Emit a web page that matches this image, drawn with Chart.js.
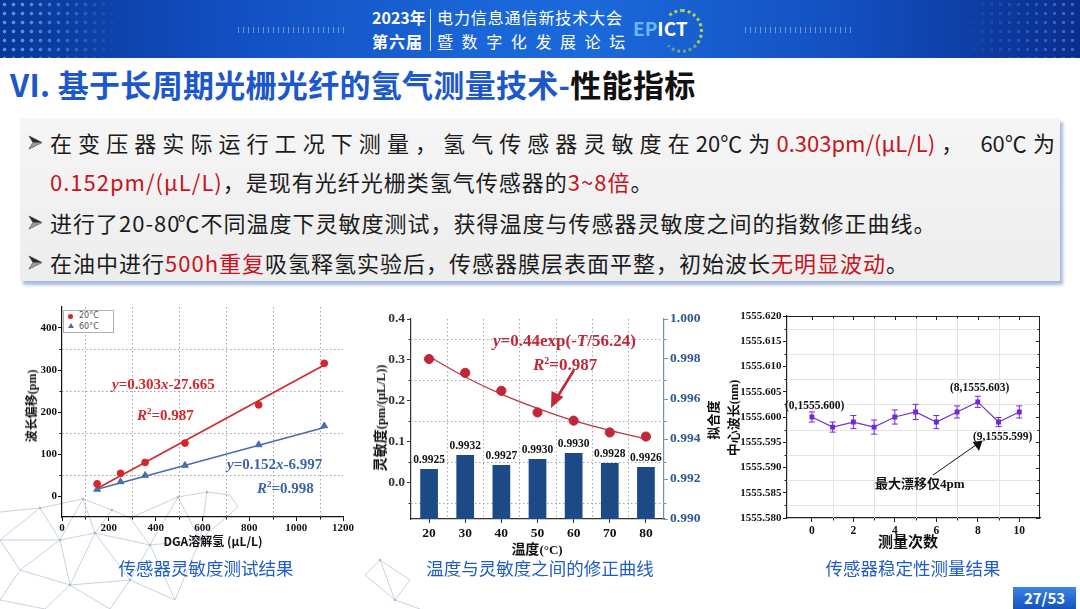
<!DOCTYPE html>
<html><head><meta charset="utf-8">
<script src="https://cdn.jsdelivr.net/npm/chart.js@4.4.0/dist/chart.umd.min.js"></script>
<style>
body{margin:0;background:#fff;}
#page{position:relative;width:1080px;height:609px;overflow:hidden;background:#fff;font-family:'Noto Sans CJK SC','Noto Sans',sans-serif;}
.abs{position:absolute;}
.hw{color:#fff;white-space:nowrap;line-height:20px;}
.ln{position:absolute;left:50px;font-size:22px;line-height:30px;color:#1b1b1b;white-space:nowrap;letter-spacing:1px;}
.dc{margin-left:-6px;}
.dc2{margin-left:-3px;}
.r{color:#c8141c;}
.cap{position:absolute;top:556px;font-size:17.5px;line-height:24px;color:#1f5cc6;white-space:nowrap;transform:translateX(-50%);}
.ser{font-family:'Liberation Serif','DejaVu Serif',serif;font-weight:bold;}
.ann{position:absolute;white-space:nowrap;font-family:'Liberation Serif','DejaVu Serif',serif;font-weight:bold;line-height:18px;transform:translateY(-50%);}
.rot{position:absolute;white-space:nowrap;text-align:center;font-weight:bold;color:#111;transform:translate(-50%,-50%) rotate(-90deg);}
.ht{position:absolute;white-space:nowrap;font-weight:bold;color:#111;transform:translate(-50%,-50%);}
canvas{display:block;}
</style></head>
<body><div id="page">

<!-- header band -->
<div class="abs" style="left:0;top:0;width:1080px;height:58px;background:linear-gradient(90deg,#0a3796 0%,#1250c2 22%,#1a66d8 45%,#1b69da 55%,#1350c0 78%,#0a2e8e 100%);"></div>
<div class="abs" style="left:0;top:0;width:120px;height:58px;background-image:radial-gradient(circle,rgba(110,170,255,0.75) 1.7px,transparent 2.2px);background-size:9px 9px;-webkit-mask-image:linear-gradient(90deg,#000 20%,transparent);"></div>
<div class="abs" style="left:960px;top:0;width:120px;height:58px;background-image:radial-gradient(circle,rgba(110,170,255,0.45) 1.5px,transparent 2px);background-size:9px 9px;-webkit-mask-image:linear-gradient(270deg,#000 10%,transparent);"></div>
<div class="abs" style="left:238px;top:27px;width:108px;height:6px;background:repeating-linear-gradient(90deg,rgba(190,215,255,0.5) 0 1px,transparent 1px 5px);"></div>
<div class="abs" style="left:745px;top:27px;width:108px;height:6px;background:repeating-linear-gradient(90deg,rgba(190,215,255,0.5) 0 1px,transparent 1px 5px);"></div>
<div class="abs hw" style="left:372px;top:7px;font-size:16px;font-weight:bold;">2023年</div>
<div class="abs hw" style="left:372px;top:31px;font-size:16px;font-weight:bold;letter-spacing:1px;">第六届</div>
<div class="abs" style="left:430px;top:9px;width:1px;height:42px;background:rgba(255,255,255,0.8);"></div>
<div class="abs hw" style="left:437px;top:7px;font-size:16px;letter-spacing:0.9px;">电力信息通信新技术大会</div>
<div class="abs hw" style="left:437px;top:31px;font-size:16px;letter-spacing:8.6px;">暨数字化发展论坛</div>
<div class="abs" style="left:661px;top:9px;width:36px;height:38px;border-radius:50%;border:3px dotted #a6d64f;border-left-color:transparent;border-bottom-color:rgba(166,214,79,0.6);"></div>
<div class="abs hw" style="left:633px;top:17px;font-size:19px;font-weight:bold;line-height:22px;"><span style="color:#6fb4ff">EP</span>ICT</div>

<!-- title -->
<div class="abs" style="left:10px;top:63px;font-size:31px;line-height:42px;font-weight:bold;color:#1c58ca;white-space:nowrap;letter-spacing:0.3px;">VI. 基于长周期光栅光纤的氢气测量技术-<span style="color:#111">性能指标</span></div>

<!-- text box -->
<div class="abs" style="left:20px;top:118px;width:1040px;height:163px;background:linear-gradient(180deg,#f5f5f5,#ededed);box-shadow:3px 4px 3px rgba(110,140,195,0.6);"></div>
<svg class="abs" style="left:0;top:0;" width="60" height="290">
<g fill="#2a2a2a" stroke="#2a2a2a" stroke-width="0.6" stroke-linejoin="round">
<polygon points="29,136 42,142.5 29,149 33,142.5"/>
<polygon points="29,216 42,222.5 29,229 33,222.5"/>
<polygon points="29,256 42,262.5 29,269 33,262.5"/>
</g>
<g fill="#9a9a9a">
<polygon points="29,149 33,142.5 42,142.5"/>
<polygon points="29,229 33,222.5 42,222.5"/>
<polygon points="29,269 33,262.5 42,262.5"/>
</g>
</svg>
<div class="ln" style="top:127px;width:1005px;text-align:justify;text-align-last:justify;letter-spacing:0;">在变压器实际运行工况下测量，氢气传感器灵敏度在20<span class="dc">℃</span>为<span class="r">0.303pm/(μL/L)</span>， 60<span class="dc">℃</span>为</div>
<div class="ln" style="top:166px;"><span class="r">0.152pm/(μL/L)</span>，是现有光纤光栅类氢气传感器的<span class="r">3~8倍</span>。</div>
<div class="ln" style="top:207px;">进行了20-80<span class="dc2">℃</span>不同温度下灵敏度测试，获得温度与传感器灵敏度之间的指数修正曲线。</div>
<div class="ln" style="top:247px;">在油中进行<span class="r">500h重复</span>吸氢释氢实验后，传感器膜层表面平整，初始波长<span class="r">无明显波动</span>。</div>

<!-- background mesh -->
<svg class="abs" style="left:0;top:0;" width="1080" height="609">
<g stroke="#a9b8cc" stroke-width="0.8" fill="none" opacity="0.8">
<path d="M0,512L40,508L83,499L112,510L130,518L178,497L207,492L230,495L238,507 M83,499L60,540 M83,499L95,533 M112,510L95,533 M130,518L150,545 M178,497L150,545 M95,533L150,545 M60,540L95,533 M40,508L60,540 M0,540L20,570 M60,540L20,570 M60,540L70,585 M95,533L70,585 M95,533L130,580 M150,545L130,580 M20,570L70,585 M70,585L130,580 M20,570L0,600 M70,585L45,609 M70,585L110,609 M130,580L110,609 M178,497L200,540 M207,492L200,540 M150,545L200,540 M238,507L200,540 M130,580L175,600 M200,540L175,600 M150,545L175,600 M0,600L45,609 M0,540L40,508 M0,540L60,540 M380,560L410,580 M380,560L395,600 M410,580L395,600 M395,600L420,609 M365,575L395,600 M365,575L380,560"/>
</g>
<g fill="#9fb0c6" opacity="0.8">
<circle cx="40" cy="508" r="1.3"/><circle cx="83" cy="499" r="1.3"/><circle cx="112" cy="510" r="1.3"/><circle cx="178" cy="497" r="1.3"/><circle cx="207" cy="492" r="1.3"/><circle cx="60" cy="540" r="1.3"/><circle cx="95" cy="533" r="1.3"/><circle cx="150" cy="545" r="1.3"/><circle cx="70" cy="585" r="1.3"/><circle cx="130" cy="580" r="1.3"/><circle cx="200" cy="540" r="1.3"/><circle cx="380" cy="560" r="1.3"/><circle cx="395" cy="600" r="1.3"/>
</g>
</svg>

<!-- charts -->
<div class="abs" style="left:0;top:300px;width:360px;height:250px;"><canvas id="c1" width="360" height="250"></canvas></div>
<div class="abs" style="left:360px;top:300px;width:350px;height:260px;"><canvas id="c2" width="350" height="260"></canvas></div>
<div class="abs" style="left:700px;top:295px;width:380px;height:265px;"><canvas id="c3" width="380" height="265"></canvas></div>

<!-- chart 1 texts -->
<div class="abs" style="left:63px;top:310px;width:49px;height:21px;border:1px solid #b0b0b0;background:#fff;"></div>
<div class="abs" style="left:68px;top:313.5px;width:5px;height:5px;border-radius:50%;background:#d4262c;"></div>
<div class="abs" style="left:67.5px;top:323px;width:0;height:0;border-left:3px solid transparent;border-right:3px solid transparent;border-bottom:5px solid #4a6cae;"></div>
<div class="abs" style="left:79px;top:310px;font-family:'DejaVu Sans',sans-serif;font-size:8px;line-height:11px;color:#555;">20°C<br>60°C</div>
<div class="rot" style="left:31px;top:406px;font-size:12px;">波长偏移<span class="ser">(pm)</span></div>
<div class="ht" style="left:213px;top:540px;font-size:12px;">DGA溶解氢 (μL/L)</div>
<div class="ann" style="left:112px;top:384px;font-size:15px;color:#d4262c;"><i>y</i>=0.303<i>x</i>-27.665</div>
<div class="ann" style="left:137px;top:413px;font-size:15px;color:#d4262c;"><i>R</i><sup style="font-size:9px">2</sup>=0.987</div>
<div class="ann" style="left:227px;top:464px;font-size:15px;color:#3e66a6;"><i>y</i>=0.152<i>x</i>-6.997</div>
<div class="ann" style="left:257px;top:486px;font-size:15px;color:#3e66a6;"><i>R</i><sup style="font-size:9px">2</sup>=0.998</div>

<!-- chart 2 texts -->
<div class="rot" style="left:379px;top:418px;font-size:14px;">灵敏度<span class="ser" style="font-size:12.5px;">(pm/(μL/L))</span></div>
<div class="ht" style="left:537px;top:548px;font-size:14px;">温度<span class="ser" style="font-size:13px;">(°C)</span></div>
<div class="rot" style="left:712px;top:420px;font-size:13px;">拟合度</div>
<div class="ann" style="left:493px;top:341px;font-size:17px;color:#c0283a;"><i>y</i>=0.44exp(-<i>T</i>/56.24)</div>
<div class="ann" style="left:533px;top:363px;font-size:17px;color:#c0283a;"><i>R</i><sup style="font-size:10px">2</sup>=0.987</div>

<!-- chart 3 texts -->
<div class="rot" style="left:732px;top:418px;font-size:13px;">中心波长<span class="ser" style="font-size:12px;">(nm)</span></div>
<div class="ht" style="left:908px;top:540px;font-size:15px;">测量次数</div>
<div class="ann" style="left:785px;top:405px;font-size:11.5px;color:#111;">(0,1555.600)</div>
<div class="ann" style="left:950px;top:387px;font-size:11.5px;color:#111;">(8,1555.603)</div>
<div class="ann" style="left:973px;top:436px;font-size:11.5px;color:#111;">(9,1555.599)</div>
<div class="ann" style="left:875px;top:483px;font-size:13px;color:#111;font-family:'Noto Sans CJK SC',sans-serif;">最大漂移仅<span class="ser">4pm</span></div>

<!-- arrows -->
<svg class="abs" style="left:0;top:0;pointer-events:none;" width="1080" height="609">
<line x1="574" y1="370" x2="558" y2="396" stroke="#c0283a" stroke-width="2.6"/>
<polygon points="551,408 563.5,397 551.5,391" fill="#c0283a"/>
<line x1="933" y1="475" x2="976" y2="445" stroke="#111" stroke-width="1"/>
<polygon points="982.5,440.5 979,451 972.5,442" fill="#111"/>
</svg>

<!-- captions -->
<div class="cap" style="left:206px;">传感器灵敏度测试结果</div>
<div class="cap" style="left:540px;">温度与灵敏度之间的修正曲线</div>
<div class="cap" style="left:913px;">传感器稳定性测量结果</div>

<!-- page number -->
<div class="abs" style="left:1013px;top:587px;width:63px;height:22px;background:linear-gradient(180deg,#3a86e8,#1553bd);color:#fff;font-weight:bold;font-size:15px;line-height:22px;text-align:center;">27/53</div>

</div>
<script>
// ===== Chart 1: sensitivity test =====
const dgaH2   = [150, 250, 355, 525, 840, 1120];
const shift20 = [29, 54, 80, 126, 217, 316];
const shift60 = [16, 34, 49, 73, 122, 167];
const fitX    = [150, 1120];
const fit20   = [18, 312];
const fit60   = [16, 163];
const c1XTicks = [0, 200, 400, 600, 800, 1000, 1200];
const c1YTicks = [0, 100, 200, 300, 400];
const c1XMinor = [100, 300, 500, 700, 900, 1100];
const c1YMinor = [50, 150, 250, 350];

// ===== Chart 2: temperature correction =====
const tempC        = ['20', '30', '40', '50', '60', '70', '80'];
const sensitivity  = [0.302, 0.268, 0.224, 0.171, 0.151, 0.122, 0.112];
const sensFit      = [0.308, 0.258, 0.216, 0.181, 0.151, 0.127, 0.106];
const fitDegree    = [0.9925, 0.9932, 0.9927, 0.9930, 0.9933, 0.9928, 0.9926];
const fitDegreeLbl = ['0.9925', '0.9932', '0.9927', '0.9930', '0.9930', '0.9928', '0.9926'];
const c2LeftTicks  = [0, 0.1, 0.2, 0.3, 0.4];
const c2LeftMinor  = [-0.05, 0.05, 0.15, 0.25, 0.35];
const c2RightTicks = [0.990, 0.992, 0.994, 0.996, 0.998, 1.000];

// ===== Chart 3: stability =====
const runs       = [0, 1, 2, 3, 4, 5, 6, 7, 8, 9, 10];
const wavelength = [1555.600, 1555.598, 1555.599, 1555.598, 1555.600, 1555.601, 1555.599, 1555.601, 1555.603, 1555.599, 1555.601];
const wlError    = [0.0010, 0.0010, 0.0013, 0.0014, 0.0014, 0.0015, 0.0013, 0.0012, 0.0011, 0.0009, 0.0012];
const c3XTicks   = [0, 2, 4, 6, 8, 10];
const c3XMinor   = [1, 3, 5, 7, 9];
const c3YTicks   = [1555.580, 1555.585, 1555.590, 1555.595, 1555.600, 1555.605, 1555.610, 1555.615, 1555.620];
const c3YMinor   = [1555.5825, 1555.5875, 1555.5925, 1555.5975, 1555.6025, 1555.6075, 1555.6125, 1555.6175];

const SERIF = "'Liberation Serif','DejaVu Serif',serif";
const fixW = w => s => { s.width = w; s.paddingTop = 0; s.paddingBottom = 0; };
const fixH = h => s => { s.height = h; s.paddingLeft = 0; s.paddingRight = 0; };
const setTicks = arr => s => { s.ticks = arr.map(v => ({ value: v })); };
function seg(ctx, x1, y1, x2, y2) { ctx.beginPath(); ctx.moveTo(x1, y1); ctx.lineTo(x2, y2); ctx.stroke(); }
const base = { responsive: false, animation: false, devicePixelRatio: 1,
  plugins: { legend: { display: false }, tooltip: { enabled: false } } };

// ---- chart 1 ----
const RED1 = '#d4262c', BLUE1 = '#4a6cae';
const c1Decor = { id: 'c1Decor', beforeDatasetsDraw(ch) {
  const { ctx, chartArea: a, scales: { x, y } } = ch;
  ctx.save(); ctx.lineWidth = 1; ctx.strokeStyle = '#a0a0a0'; ctx.setLineDash([1.5, 2.5]);
  c1YMinor.forEach(v => { const p = Math.round(y.getPixelForValue(v)) + 0.5; seg(ctx, a.left, p, a.right, p); });
  c1XMinor.forEach(v => { const p = Math.round(x.getPixelForValue(v)) + 0.5; seg(ctx, p, a.top, p, a.bottom); });
  ctx.setLineDash([]); ctx.strokeStyle = '#111';
  c1YMinor.forEach(v => { const p = Math.round(y.getPixelForValue(v)) + 0.5; seg(ctx, a.left - 2.5, p, a.left, p); });
  c1XMinor.forEach(v => { const p = Math.round(x.getPixelForValue(v)) + 0.5; seg(ctx, p, a.bottom, p, a.bottom + 2.5); });
  ctx.restore();
} };
new Chart(document.getElementById('c1'), {
  type: 'scatter',
  data: { datasets: [
    { data: dgaH2.map((v, i) => ({ x: v, y: shift20[i] })), pointStyle: 'circle', pointRadius: 3.4, backgroundColor: RED1, borderColor: RED1, order: 1 },
    { type: 'line', data: fitX.map((v, i) => ({ x: v, y: fit20[i] })), borderColor: RED1, borderWidth: 1.6, pointRadius: 0, order: 2 },
    { data: dgaH2.map((v, i) => ({ x: v, y: shift60[i] })), pointStyle: 'triangle', pointRadius: 3.9, backgroundColor: BLUE1, borderColor: BLUE1, order: 1 },
    { type: 'line', data: fitX.map((v, i) => ({ x: v, y: fit60[i] })), borderColor: BLUE1, borderWidth: 1.6, pointRadius: 0, order: 2 }
  ] },
  options: Object.assign({}, base, {
    layout: { padding: { left: 0, top: 7, right: 17, bottom: 0 } },
    scales: {
      x: { type: 'linear', min: 0, max: 1200, afterBuildTicks: setTicks(c1XTicks), afterFit: fixH(33),
        ticks: { font: { family: SERIF, size: 11, weight: 'bold' }, color: '#111', padding: 1, maxRotation: 0, callback: v => String(v) },
        grid: { drawOnChartArea: false, tickLength: 4, color: '#111' }, border: { color: '#111', width: 1.2 } },
      y: { type: 'linear', min: -50, max: 450, afterBuildTicks: setTicks(c1YTicks), afterFit: fixW(62),
        ticks: { font: { family: SERIF, size: 11, weight: 'bold' }, color: '#111', padding: 1, callback: v => String(v) },
        grid: { drawOnChartArea: false, tickLength: 4, color: '#111' }, border: { color: '#111', width: 1.2 } }
    }
  }),
  plugins: [c1Decor]
});

// ---- chart 2 ----
const c2Decor = { id: 'c2Decor',
  beforeDatasetsDraw(ch) {
    const { ctx, chartArea: a, scales: { x, y } } = ch;
    ctx.save(); ctx.lineWidth = 1; ctx.strokeStyle = '#a8a8a8'; ctx.setLineDash([1.5, 2.5]);
    c2LeftMinor.forEach(v => { const p = Math.round(y.getPixelForValue(v)) + 0.5; seg(ctx, a.left, p, a.right, p); });
    for (let i = 0; i < tempC.length - 1; i++) { const p = Math.round(x.getPixelForValue(i + 0.5)) + 0.5; seg(ctx, p, a.top, p, a.bottom); }
    ctx.setLineDash([]); ctx.strokeStyle = '#333';
    c2LeftMinor.forEach(v => { const p = Math.round(y.getPixelForValue(v)) + 0.5; seg(ctx, a.left - 2.5, p, a.left, p); });
    ctx.strokeStyle = '#7890a8';
    c2LeftMinor.forEach(v => { const p = Math.round(y.getPixelForValue(v)) + 0.5; seg(ctx, a.right, p, a.right + 2.5, p); });
    ctx.restore();
  },
  afterDatasetsDraw(ch) {
    const { ctx } = ch; const meta = ch.getDatasetMeta(0);
    ctx.save(); ctx.fillStyle = '#111'; ctx.font = 'bold 11.5px ' + SERIF; ctx.textAlign = 'center'; ctx.textBaseline = 'bottom';
    meta.data.forEach((el, i) => ctx.fillText(fitDegreeLbl[i], el.x, el.y - 3));
    ctx.restore();
  } };
new Chart(document.getElementById('c2'), {
  type: 'bar',
  data: { labels: tempC, datasets: [
    { data: fitDegree, yAxisID: 'y2', backgroundColor: '#1b4a86', barPercentage: 0.49, categoryPercentage: 1, order: 3 },
    { type: 'line', data: sensFit, yAxisID: 'y', borderColor: '#b3394a', borderWidth: 1.2, pointRadius: 0, tension: 0.4, cubicInterpolationMode: 'monotone', order: 2 },
    { type: 'line', data: sensitivity, yAxisID: 'y', showLine: false, pointRadius: 4.6, backgroundColor: '#c0283a', borderColor: '#c0283a', order: 1 }
  ] },
  options: Object.assign({}, base, {
    layout: { padding: { left: 0, top: 19, right: 0, bottom: 0 } },
    scales: {
      x: { type: 'category', afterFit: fixH(41),
        ticks: { font: { family: SERIF, size: 13.5, weight: 'bold' }, color: '#111', padding: 2 },
        grid: { drawOnChartArea: false, offset: false, tickLength: 4, color: '#333' }, border: { color: '#333', width: 1.2 } },
      y: { type: 'linear', position: 'left', min: -0.09, max: 0.4, afterBuildTicks: setTicks(c2LeftTicks), afterFit: fixW(51),
        ticks: { font: { family: SERIF, size: 13.5, weight: 'bold' }, color: '#333', padding: 2, callback: v => v.toFixed(1) },
        grid: { drawOnChartArea: false, tickLength: 4, color: '#333' }, border: { color: '#333', width: 1.2 } },
      y2: { type: 'linear', position: 'right', min: 0.990, max: 1.000, afterBuildTicks: setTicks(c2RightTicks), afterFit: fixW(46),
        ticks: { font: { family: SERIF, size: 13.5, weight: 'bold' }, color: '#2c5a8c', padding: 2, callback: v => v.toFixed(3) },
        grid: { drawOnChartArea: false, tickLength: 4, color: '#7890a8' }, border: { color: '#7890a8', width: 1.2 } }
    }
  }),
  plugins: [c2Decor]
});

// ---- chart 3 ----
const PURPLE = '#7326dc';
const c3Decor = { id: 'c3Decor',
  beforeDatasetsDraw(ch) {
    const { ctx, chartArea: a, scales: { x, y } } = ch;
    ctx.save(); ctx.lineWidth = 1; ctx.strokeStyle = '#e4e4e4';
    c3YMinor.forEach(v => { const p = Math.round(y.getPixelForValue(v)) + 0.5; seg(ctx, a.left, p, a.right, p); });
    c3XMinor.forEach(v => { const p = Math.round(x.getPixelForValue(v)) + 0.5; seg(ctx, p, a.top, p, a.bottom); });
    ctx.strokeStyle = '#222';
    seg(ctx, a.left, a.top + 0.5, a.right, a.top + 0.5); seg(ctx, a.right - 0.5, a.top, a.right - 0.5, a.bottom);
    c3XTicks.forEach(v => { const p = Math.round(x.getPixelForValue(v)) + 0.5; seg(ctx, p, a.top, p, a.top + 4); });
    c3XMinor.forEach(v => { const p = Math.round(x.getPixelForValue(v)) + 0.5; seg(ctx, p, a.top, p, a.top + 2.5); seg(ctx, p, a.bottom, p, a.bottom + 2.5); });
    c3YTicks.forEach(v => { const p = Math.round(y.getPixelForValue(v)) + 0.5; seg(ctx, a.right - 4, p, a.right, p); });
    c3YMinor.forEach(v => { const p = Math.round(y.getPixelForValue(v)) + 0.5; seg(ctx, a.right - 2.5, p, a.right, p); seg(ctx, a.left - 2.5, p, a.left, p); });
    // error bars
    ctx.strokeStyle = PURPLE; ctx.lineWidth = 1;
    runs.forEach((r, i) => {
      const px = x.getPixelForValue(r), p1 = y.getPixelForValue(wavelength[i] - wlError[i]), p2 = y.getPixelForValue(wavelength[i] + wlError[i]);
      seg(ctx, px, p1, px, p2); seg(ctx, px - 3, p1, px + 3, p1); seg(ctx, px - 3, p2, px + 3, p2);
    });
    ctx.restore();
  } };
new Chart(document.getElementById('c3'), {
  type: 'scatter',
  data: { datasets: [
    { type: 'line', data: runs.map((r, i) => ({ x: r, y: wavelength[i] })), borderWidth: 1.2,
      pointStyle: 'rect', pointRadius: 2.6, backgroundColor: PURPLE, borderColor: '#6a36cc', pointBorderColor: PURPLE, tension: 0 }
  ] },
  options: Object.assign({}, base, {
    layout: { padding: { left: 0, top: 21, right: 40, bottom: 0 } },
    scales: {
      x: { type: 'linear', min: -1.2, max: 11, afterBuildTicks: setTicks(c3XTicks), afterFit: fixH(42),
        ticks: { font: { family: SERIF, size: 11.5, weight: 'bold' }, color: '#111', padding: 2 },
        grid: { drawOnChartArea: false, tickLength: 4, color: '#222' }, border: { color: '#222', width: 1.2 } },
      y: { type: 'linear', min: 1555.58, max: 1555.62, afterBuildTicks: setTicks(c3YTicks), afterFit: fixW(87),
        ticks: { font: { family: SERIF, size: 11, weight: 'bold' }, color: '#111', padding: 1.5, callback: v => v.toFixed(3) },
        grid: { drawOnChartArea: false, tickLength: 4, color: '#222' }, border: { color: '#222', width: 1.2 } }
    }
  }),
  plugins: [c3Decor]
});
</script>
</body></html>
